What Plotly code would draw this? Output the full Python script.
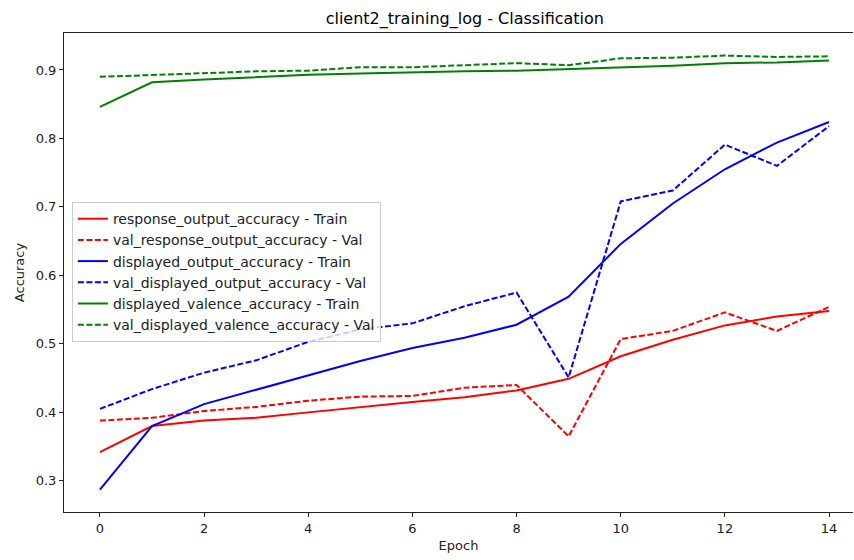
import plotly.graph_objects as go

epochs = list(range(15))

response_train = [0.342, 0.380, 0.388, 0.392, 0.400, 0.408, 0.415, 0.422, 0.432, 0.449, 0.482, 0.506, 0.527, 0.540, 0.548]
response_val = [0.388, 0.392, 0.402, 0.408, 0.417, 0.423, 0.424, 0.436, 0.440, 0.365, 0.507, 0.519, 0.546, 0.519, 0.554]
displayed_train = [0.287, 0.380, 0.412, 0.433, 0.455, 0.475, 0.494, 0.509, 0.528, 0.569, 0.646, 0.705, 0.755, 0.794, 0.824]
displayed_val = [0.405, 0.434, 0.458, 0.476, 0.503, 0.521, 0.530, 0.555, 0.575, 0.451, 0.708, 0.724, 0.791, 0.760, 0.818]
valence_train = [0.846, 0.882, 0.886, 0.890, 0.893, 0.895, 0.897, 0.898, 0.899, 0.901, 0.904, 0.906, 0.910, 0.911, 0.914]
valence_val = [0.890, 0.893, 0.896, 0.898, 0.899, 0.904, 0.904, 0.907, 0.910, 0.907, 0.917, 0.918, 0.921, 0.919, 0.920]

series = [
    ("response_output_accuracy - Train", response_train, "#ff0000", "solid"),
    ("val_response_output_accuracy - Val", response_val, "#ff0000", "6px,2.5px"),
    ("displayed_output_accuracy - Train", displayed_train, "#0000ff", "solid"),
    ("val_displayed_output_accuracy - Val", displayed_val, "#0000ff", "6px,2.5px"),
    ("displayed_valence_accuracy - Train", valence_train, "#008000", "solid"),
    ("val_displayed_valence_accuracy - Val", valence_val, "#008000", "6px,2.5px"),
]

fig = go.Figure()
for name, vals, color, dash in series:
    fig.add_trace(go.Scatter(x=epochs, y=vals, mode="lines", name=name,
                             line=dict(color=color, width=2, dash=dash)))

font = "DejaVu Sans"
fig.update_layout(
    width=854, height=560,
    margin=dict(l=64, r=1, t=33, b=48, autoexpand=False),
    paper_bgcolor="white", plot_bgcolor="white",
    font=dict(family=font, size=13, color="#222222"),
    title=dict(text="client2_training_log - Classification", x=0.508, xanchor="center",
               xref="paper", y=1 - 18 / 560, yanchor="middle", font=dict(size=16, color="black")),
    legend=dict(x=0.01, y=0.647, xanchor="left", yanchor="top",
                bgcolor="rgba(255,255,255,0.8)", bordercolor="#cccccc", borderwidth=1,
                font=dict(size=14), tracegroupgap=0, itemwidth=30),
    showlegend=True,
)
fig.update_xaxes(range=[-0.69, 14.46], tickmode="array", tickvals=[0, 2, 4, 6, 8, 10, 12, 14],
                 showgrid=False, zeroline=False, showline=True, linecolor="#222222", linewidth=1,
                 mirror=True, ticks="outside", ticklen=4, tickcolor="#222222", automargin=False,
                 tickfont=dict(size=13),
                 title=dict(text="Epoch", standoff=6, font=dict(size=13)))
fig.update_yaxes(range=[0.2545, 0.954], tickmode="array", tickvals=[0.3, 0.4, 0.5, 0.6, 0.7, 0.8, 0.9],
                 ticktext=["0.3", "0.4", "0.5", "0.6", "0.7", "0.8", "0.9"],
                 showgrid=False, zeroline=False, showline=True, linecolor="#222222", linewidth=1,
                 mirror=False, ticks="outside", ticklen=4, tickcolor="#222222", automargin=False,
                 tickfont=dict(size=13),
                 title=dict(text="Accuracy", standoff=8, font=dict(size=13)))

fig.write_html("out.html")
